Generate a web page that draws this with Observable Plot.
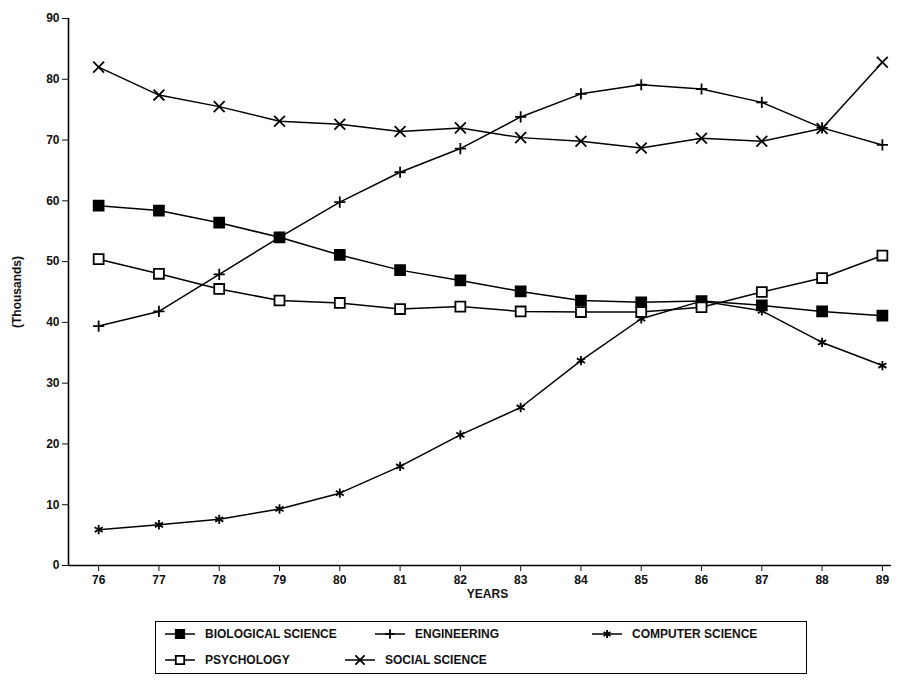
<!DOCTYPE html>
<html>
<head>
<meta charset="utf-8">
<script src="https://cdn.jsdelivr.net/npm/d3@7"></script>
<script src="https://cdn.jsdelivr.net/npm/@observablehq/plot@0.6"></script>
<style>
  html, body { margin: 0; padding: 0; background: #fff; }
  #wrap { position: relative; width: 906px; height: 685px; overflow: hidden; font-family: "Liberation Sans", Arial, sans-serif; }
  #legend { position: absolute; left: 155px; top: 621px; width: 652px; height: 53px; border: 1.5px solid #000; box-sizing: border-box; }
  .item { position: absolute; display: flex; align-items: center; font-size: 12px; font-weight: bold; color: #111; white-space: nowrap; }
  .item svg { margin-right: 8px; }
</style>
</head>
<body>
<div id="wrap"><div id="chart"></div><div id="legend"></div></div>
<script>
const years = [76, 77, 78, 79, 80, 81, 82, 83, 84, 85, 86, 87, 88, 89];
const seriesNames = ["BIOLOGICAL SCIENCE", "ENGINEERING", "COMPUTER SCIENCE", "PSYCHOLOGY", "SOCIAL SCIENCE"];
const biological = [59.2, 58.4, 56.4, 54.0, 51.1, 48.6, 46.9, 45.1, 43.6, 43.3, 43.5, 42.8, 41.8, 41.1];
const engineering = [39.4, 41.8, 47.9, 54.0, 59.8, 64.7, 68.6, 73.8, 77.6, 79.1, 78.4, 76.2, 72.0, 69.2];
const computer = [5.9, 6.7, 7.6, 9.3, 11.9, 16.3, 21.5, 26.0, 33.7, 40.6, 43.5, 41.9, 36.7, 32.9];
const psychology = [50.4, 48.0, 45.5, 43.6, 43.2, 42.2, 42.6, 41.8, 41.7, 41.7, 42.5, 45.0, 47.3, 51.0];
const social = [82.0, 77.4, 75.5, 73.1, 72.6, 71.4, 72.0, 70.4, 69.8, 68.7, 70.3, 69.8, 71.9, 82.8];
const yTicks = [0, 10, 20, 30, 40, 50, 60, 70, 80, 90];

const valuesBySeries = [biological, engineering, computer, psychology, social];
const symbols = ["square", "plus", "asterisk", "square", "times"];
const fills = ["black", "none", "none", "white", "none"];
const radii = [5.6, 3.7, 4.4, 5.6, 5.0];

const rows = [];
seriesNames.forEach((s, i) => years.forEach((yr, j) => rows.push({series: s, year: yr, value: valuesBySeries[i][j]})));

const dotMarks = seriesNames.map((s, i) => Plot.dot(rows.filter(d => d.series === s), {
  x: "year", y: "value", symbol: () => symbols[i], r: radii[i],
  fill: fills[i], stroke: "black", strokeWidth: 1.8
}));

const chart = Plot.plot({
  width: 906, height: 605,
  marginLeft: 68, marginRight: 0, marginTop: 18, marginBottom: 40,
  style: {fontFamily: "'Liberation Sans', Arial, sans-serif", fontSize: "11px", color: "#111", background: "white"},
  x: {domain: [75.5, 89.4]},
  y: {domain: [0, 90]},
  symbol: {domain: symbols, range: symbols},
  marks: [
    Plot.axisY({ticks: yTicks, tickSize: 6, tickPadding: 3, fontWeight: "bold", fontSize: 12,
      label: "(Thousands)", labelAnchor: "center", labelArrow: "none", labelOffset: 56}),
    Plot.axisX({ticks: years, tickFormat: d => String(d), tickSize: 6, tickPadding: 4, fontWeight: "bold", fontSize: 12,
      label: "YEARS", labelAnchor: "center", labelArrow: "none", labelOffset: 32}),
    Plot.ruleX([75.5], {y1: 0, y2: 90, stroke: "black", strokeWidth: 1.6}),
    Plot.ruleY([0], {x1: 75.5, x2: 89.15, stroke: "black", strokeWidth: 1.6}),
    Plot.line(rows, {x: "year", y: "value", z: "series", stroke: "black", strokeWidth: 1.5}),
    ...dotMarks
  ]
});
document.getElementById("chart").appendChild(chart);

// Legend
const legendPos = [
  {left: 7, top: 5}, {left: 217, top: 5}, {left: 434, top: 5},
  {left: 7, top: 31}, {left: 187, top: 31}
];
const legend = document.getElementById("legend");
const symMap = {square: d3.symbolSquare, plus: d3.symbolPlus, asterisk: d3.symbolAsterisk, times: d3.symbolTimes};
seriesNames.forEach((s, i) => {
  const div = document.createElement("div");
  div.className = "item";
  div.style.left = legendPos[i].left + "px";
  div.style.top = legendPos[i].top + "px";
  const svg = d3.create("svg").attr("width", 34).attr("height", 14);
  svg.append("line").attr("x1", 2).attr("x2", 32).attr("y1", 7).attr("y2", 7).attr("stroke", "black").attr("stroke-width", 1.5);
  const rr = radii[i] * 0.85;
  svg.append("path").attr("transform", "translate(17,7)")
    .attr("d", d3.symbol(symMap[symbols[i]], Math.PI * rr * rr)())
    .attr("fill", fills[i]).attr("stroke", "black").attr("stroke-width", 1.8);
  div.appendChild(svg.node());
  const span = document.createElement("span");
  span.textContent = s;
  div.appendChild(span);
  legend.appendChild(div);
});
</script>
</body>
</html>
